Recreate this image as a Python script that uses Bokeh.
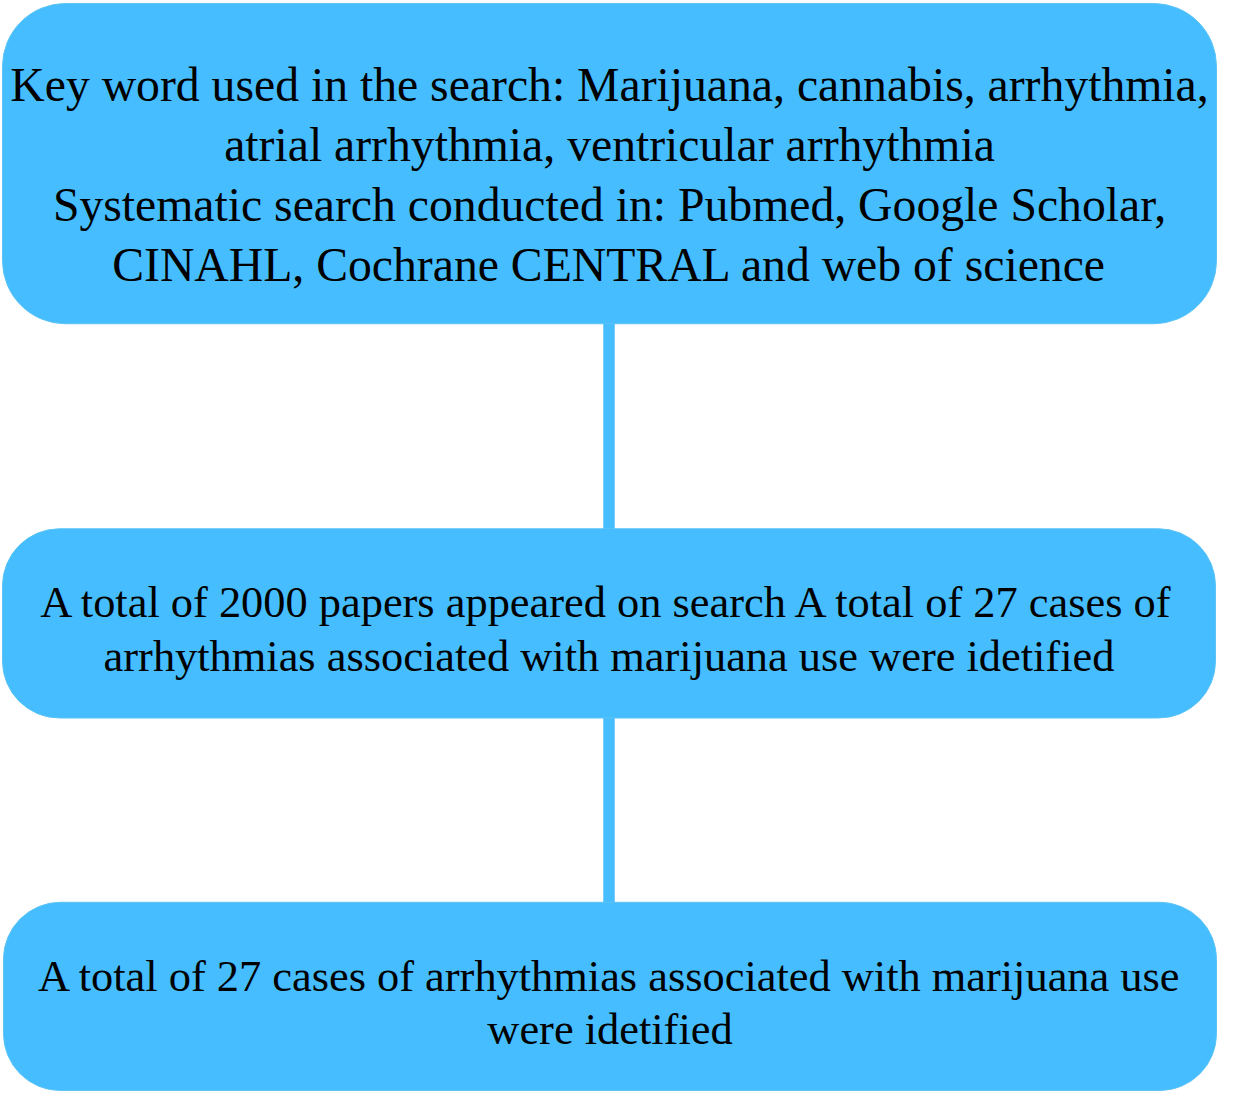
from bokeh.plotting import figure
from bokeh.embed import file_html
from bokeh.resources import INLINE
from bokeh.core.properties import value
from bokeh.models import Range1d

# ---- content ----
box1_lines = [
    "Key word used in the search: Marijuana, cannabis, arrhythmia,",
    "atrial arrhythmia, ventricular arrhythmia",
    "Systematic search conducted in: Pubmed, Google Scholar,",
    "CINAHL, Cochrane CENTRAL and web of science",
]
box2_lines = [
    "A total of 2000 papers appeared on search A total of 27 cases of",
    "arrhythmias associated with marijuana use were idetified",
]
box3_lines = [
    "A total of 27 cases of arrhythmias associated with marijuana use",
    "were idetified",
]

# ---- layout (reference pixel space, y downward) ----
W, H = 1233, 1108
PW, PH = 1217, 1092
sx = PW / W
FILL = "#45BDFF"
FONT = "Liberation Serif"

boxes = [
    dict(l=2, r=1232, t=3, b=328, rad=64, lines=box1_lines, c0=85, step=61, fs=48.3),
    dict(l=2, r=1231, t=536, b=728, rad=58, lines=box2_lines, c0=610, step=55, fs=45.0),
    dict(l=3, r=1232, t=915, b=1106, rad=58, lines=box3_lines, c0=990, step=54, fs=45.0),
]

p = figure(width=PW, height=PH, output_backend="svg", toolbar_location=None,
           x_range=Range1d(0, W), y_range=Range1d(H, 0), min_border=0)
p.axis.visible = False
p.grid.visible = False
p.outline_line_color = None
p.background_fill_color = "white"
p.border_fill_color = "white"

# connectors
cx = 616.5
p.quad(left=[cx - 5.8, cx - 5.8], right=[cx + 5.8, cx + 5.8],
       top=[boxes[0]["b"] - 2, boxes[1]["b"] - 2],
       bottom=[boxes[1]["t"] + 2, boxes[2]["t"] + 2],
       fill_color=FILL, line_color=None)

for bx in boxes:
    p.quad(left=[bx["l"]], right=[bx["r"]], top=[bx["t"]], bottom=[bx["b"]],
           fill_color=FILL, line_color="#5CC4F5", line_width=1,
           border_radius=int(round(bx["rad"] * sx)))
    n = len(bx["lines"])
    ys = [bx["c0"] + i * bx["step"] for i in range(n)]
    xs = [(bx["l"] + bx["r"]) / 2] * n
    p.text(x=xs, y=ys, text=bx["lines"], text_align="center",
           text_baseline="middle", text_color="black",
           text_font=value(FONT), text_font_size=f"{bx['fs'] * sx:.1f}px")

open("out.html", "w").write(file_html(p, INLINE))
